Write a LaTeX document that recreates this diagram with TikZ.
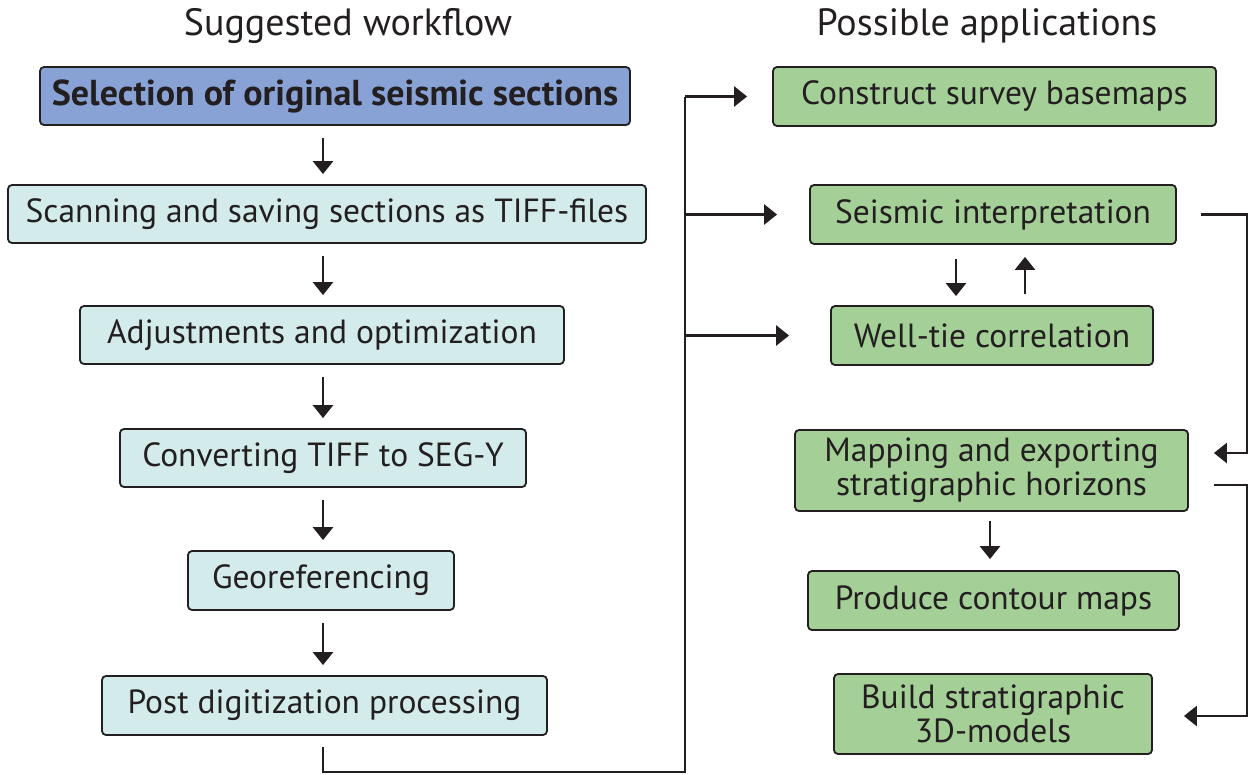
\documentclass[tikz,border=0pt]{standalone}
\usepackage{fontspec}
\setmainfont{PT Sans}
\usetikzlibrary{arrows.meta}
\definecolor{inkc}{HTML}{231F20}
\definecolor{bluefill}{HTML}{89A2D6}
\definecolor{cyanfill}{HTML}{D3EBEA}
\definecolor{greenfill}{HTML}{A4CF97}
\tikzset{
  box/.style={draw=inkc, line width=1.8pt, rounded corners=4pt, inner sep=0pt,
    text=inkc, font=\fontsize{33.5}{34}\selectfont, align=center},
  wf/.style={box, fill=cyanfill},
  app/.style={box, fill=greenfill},
  first/.style={box, fill=bluefill, font=\fontsize{36}{36}\selectfont\bfseries},
  title/.style={text=inkc, font=\fontsize{38}{42}\selectfont},
  link/.style={draw=inkc, line width=2.6pt, -{Triangle[width=20pt,length=13pt]}},
  plain/.style={draw=inkc, line width=2.6pt}
}
\begin{document}
\begin{tikzpicture}[x=1pt,y=-1pt]
\useasboundingbox (0,0) rectangle (1250,774);
% column headings
\node[title] (t1) at (348,26) {Suggested workflow};
\node[title] (t2) at (987,26) {Possible applications};
% workflow steps
\node[first, minimum width=590pt, minimum height=58pt] (sel)  at (335,96)    {Selection of original seismic sections};
\node[wf, minimum width=638pt, minimum height=58pt]    (scan) at (327,214)   {Scanning and saving sections as TIFF-files};
\node[wf, minimum width=484pt, minimum height=58pt]    (adj)  at (322,335)   {Adjustments and optimization};
\node[wf, minimum width=406pt, minimum height=58pt]    (conv) at (323,458)   {Converting TIFF to SEG-Y};
\node[wf, minimum width=266pt, minimum height=59pt]    (geo)  at (321,580.5) {Georeferencing};
\node[wf, minimum width=445pt, minimum height=59pt]    (post) at (324.5,705.5) {Post digitization processing};
% applications
\node[app, minimum width=443pt, minimum height=59pt] (cons)  at (994.5,96.5)  {Construct survey basemaps};
\node[app, minimum width=366pt, minimum height=59pt] (seis)  at (993,214.5)   {Seismic interpretation};
\node[app, minimum width=322pt, minimum height=59pt] (well)  at (992,335.5)   {Well-tie correlation};
\node[app, minimum width=393pt, minimum height=81pt] (map)   at (991.5,470.5) {Mapping and exporting\\stratigraphic horizons};
\node[app, minimum width=371pt, minimum height=59pt] (prod)  at (993.5,600.5) {Produce contour maps};
\node[app, minimum width=318pt, minimum height=80pt] (build) at (993,714)     {Build stratigraphic\\3D-models};
% guide coordinates
\coordinate (col) at (323,0);
\coordinate (trunk) at (685,772);
\coordinate (rail) at (1247,0);
\coordinate (dn) at (956,0);
\coordinate (up) at (1025,0);
\coordinate (mid) at (990,0);
% workflow arrows
\foreach \a/\b in {sel/scan, scan/adj, adj/conv, conv/geo, geo/post}
  \draw[link, shorten <=12pt, shorten >=10pt] (\a.south -| col) -- (\b.north -| col);
% feed into the applications
\draw[plain, shorten <=11pt] (post.south -| col) |- (trunk) -- (trunk |- cons);
\draw[link] (trunk |- cons) -- ([xshift=-25pt]cons.west);
\draw[link] (trunk |- seis) -- ([xshift=-32pt]seis.west);
\draw[link] (trunk |- well) -- ([xshift=-41pt]well.west);
% links between applications
\draw[link, shorten <=14pt, shorten >=9pt] (seis.south -| dn) -- (well.north -| dn);
\draw[link, shorten <=11pt, shorten >=12pt] (well.north -| up) -- (seis.south -| up);
\draw[link, shorten <=9pt, shorten >=11pt] (map.south -| mid) -- (prod.north -| mid);
\draw[link] ([xshift=24pt]seis.east) -| ([yshift=17.5pt]map.east -| rail) -- ([xshift=25pt,yshift=17.5pt]map.east);
\draw[link] ([xshift=25pt,yshift=-14.5pt]map.east) -| ([yshift=-2pt]build.east -| rail) -- ([xshift=31pt,yshift=-2pt]build.east);
\end{tikzpicture}
\end{document}
